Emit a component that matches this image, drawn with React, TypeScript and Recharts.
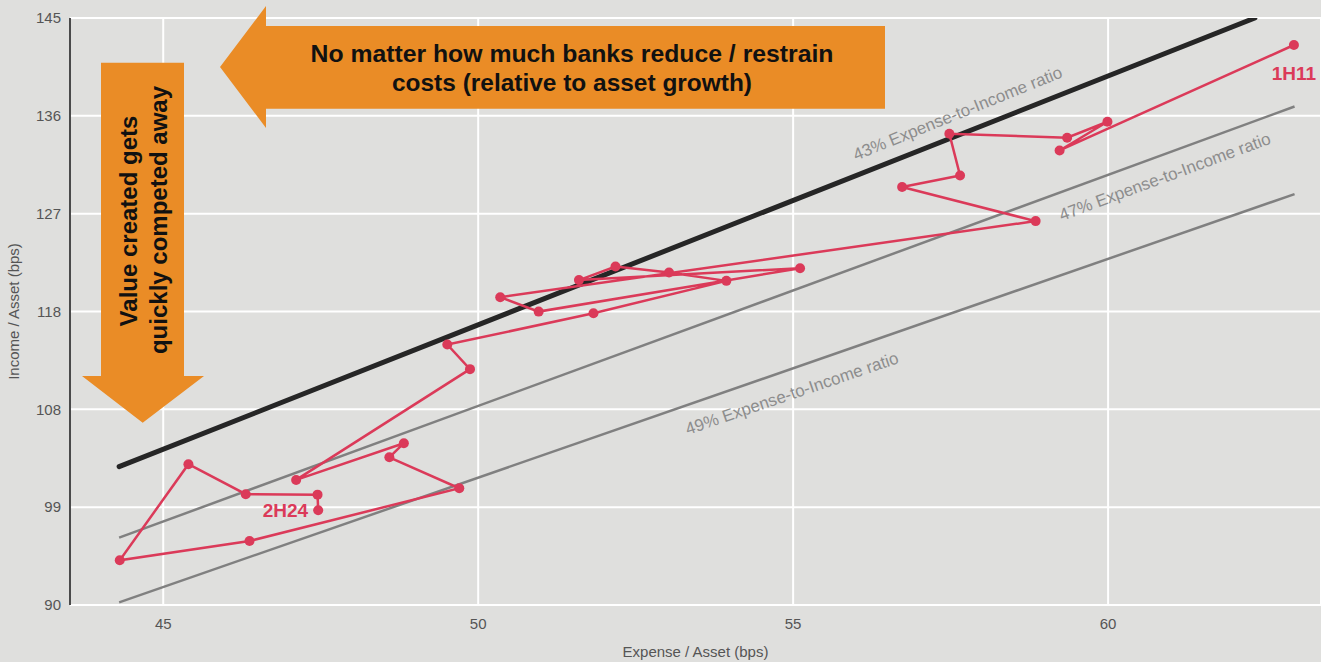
import React from 'react';
import { ComposedChart, Line, XAxis, YAxis, CartesianGrid, ReferenceDot, Label } from 'recharts';

const FONT = '"Liberation Sans", Arial, Helvetica, sans-serif';
const RED = '#db3a59';
const ORANGE = '#ea8c26';
const BG = '#dfdfdd';

// half-year periods, oldest first
const periods = [
  '1H11', '2H11', '1H12', '2H12', '1H13', '2H13', '1H14', '2H14',
  '1H15', '2H15', '1H16', '2H16', '1H17', '2H17', '1H18', '2H18',
  '1H19', '2H19', '1H20', '2H20', '1H21', '2H21', '1H22', '2H22',
  '1H23', '2H23', '1H24', '2H24',
];
// Expense / Asset (bps)
const expense = [
  62.95, 59.23, 59.99, 59.35, 57.48, 57.65, 56.73, 58.85,
  50.35, 50.96, 55.11, 51.60, 52.18, 53.03, 53.94, 51.83,
  49.51, 49.87, 47.11, 48.82, 48.59, 49.70, 46.37, 44.31,
  45.40, 46.31, 47.45, 47.46,
];
// Income / Asset (bps)
const income = [
  142.47, 132.59, 135.28, 133.78, 134.15, 130.24, 129.16, 125.97,
  118.84, 117.49, 121.56, 120.44, 121.71, 121.15, 120.37, 117.33,
  114.40, 112.10, 101.72, 105.16, 103.84, 100.94, 96.00, 94.19,
  103.19, 100.38, 100.34, 98.88,
];

// expense-to-income ratio guide lines (end points)
const ratio43Expense = [44.30, 62.33];
const ratio43Income = [102.96, 145.0];
const ratio47Expense = [44.30, 62.96];
const ratio47Income = [96.31, 136.71];
const ratio49Expense = [44.30, 62.96];
const ratio49Income = [90.25, 128.5];

const xTicks = [45, 50, 55, 60];
const yTicks = [90, 99.1667, 108.3333, 117.5, 126.6667, 135.8333, 145];

const toPoints = (xs: number[], ys: number[]) => xs.map((x, i) => ({ x, y: ys[i] }));

const path = expense.map((x, i) => ({ x, y: income[i], period: periods[i] }));
const line43 = toPoints(ratio43Expense, ratio43Income);
const line47 = toPoints(ratio47Expense, ratio47Income);
const line49 = toPoints(ratio49Expense, ratio49Income);

const ratioText = (text: string, angle: number) => (p: any) => (
  <text
    x={p.cx}
    y={p.cy}
    dy="0.35em"
    transform={`rotate(${angle} ${p.cx} ${p.cy})`}
    textAnchor="middle"
    fill="#8d8d8d"
    fontSize={17}
    fontFamily={FONT}
  >
    {text}
  </text>
);

const periodText = (text: string, dx: number, dy: number, anchor: string) => (p: any) => (
  <text
    x={p.cx + dx}
    y={p.cy + dy}
    textAnchor={anchor}
    fill={RED}
    fontSize={19}
    fontWeight="bold"
    fontFamily={FONT}
  >
    {text}
  </text>
);

const last = periods.length - 1;

export default function App() {
  return (
    <div style={{ position: 'absolute', left: 0, top: 0, width: 1321, height: 662, background: BG, fontFamily: FONT }}>
      <ComposedChart width={1321} height={662} margin={{ top: 18, right: 0, bottom: 0, left: 0 }}>
        <CartesianGrid stroke="#ffffff" strokeWidth={2} />
        <XAxis
          type="number"
          dataKey="x"
          domain={[43.52, 63.38]}
          ticks={xTicks}
          allowDataOverflow
          axisLine={false}
          tickLine={false}
          height={57}
          tickMargin={7}
          tick={{ fill: '#555555', fontSize: 15, fontFamily: FONT }}
        >
          <Label
            content={(p: any) => (
              <text
                x={p.viewBox.x + p.viewBox.width / 2}
                y={657}
                textAnchor="middle"
                fill="#555555"
                fontSize={15}
                fontFamily={FONT}
              >
                Expense / Asset (bps)
              </text>
            )}
          />
        </XAxis>
        <YAxis
          type="number"
          domain={[90, 145]}
          ticks={yTicks}
          allowDataOverflow
          width={70}
          axisLine={{ stroke: '#4a4a4a', strokeWidth: 2 }}
          tickLine={false}
          tickMargin={3}
          tickFormatter={(v: number) => String(Math.round(v))}
          tick={{ fill: '#555555', fontSize: 15, fontFamily: FONT }}
        >
          <Label
            content={(p: any) => {
              const cy = p.viewBox.y + p.viewBox.height / 2;
              return (
                <text
                  x={19}
                  y={cy}
                  transform={`rotate(-90 19 ${cy})`}
                  textAnchor="middle"
                  fill="#555555"
                  fontSize={15}
                  fontFamily={FONT}
                >
                  Income / Asset (bps)
                </text>
              );
            }}
          />
        </YAxis>

        <Line data={line49} dataKey="y" stroke="#808080" strokeWidth={2.5} dot={false} isAnimationActive={false} />
        <Line data={line47} dataKey="y" stroke="#808080" strokeWidth={2.5} dot={false} isAnimationActive={false} />
        <Line data={line43} dataKey="y" stroke="#262626" strokeWidth={5} strokeLinecap="round" dot={false} isAnimationActive={false} />
        <Line
          data={path}
          dataKey="y"
          stroke={RED}
          strokeWidth={2.5}
          dot={{ r: 5, fill: RED, stroke: RED, strokeWidth: 0 }}
          activeDot={false}
          isAnimationActive={false}
        />

        <ReferenceDot x={57.61} y={136.08} r={0} shape={ratioText('43% Expense-to-Income ratio', -22)} />
        <ReferenceDot x={60.90} y={130.15} r={0} shape={ratioText('47% Expense-to-Income ratio', -20.3)} />
        <ReferenceDot x={54.98} y={109.84} r={0} shape={ratioText('49% Expense-to-Income ratio', -18.8)} />
        <ReferenceDot x={expense[0]} y={income[0]} r={0} shape={periodText(periods[0], 0, 35, 'middle')} />
        <ReferenceDot x={expense[last]} y={income[last]} r={0} shape={periodText(periods[last], -10, 7, 'end')} />
      </ComposedChart>

      <svg width={1321} height={662} style={{ position: 'absolute', left: 0, top: 0, pointerEvents: 'none' }}>
        <polygon points="220,67 266,6 266,26 885,26 885,108.7 266,108.7 266,128" fill={ORANGE} />
        <text x={572} y={62} textAnchor="middle" fontSize={24} fontWeight="bold" fontFamily={FONT} fill="#111" textLength={523} lengthAdjust="spacingAndGlyphs">
          No matter how much banks reduce / restrain
        </text>
        <text x={572} y={91} textAnchor="middle" fontSize={24} fontWeight="bold" fontFamily={FONT} fill="#111" textLength={360} lengthAdjust="spacingAndGlyphs">
          costs (relative to asset growth)
        </text>

        <polygon points="101,62.7 184,62.7 184,376 204,376 142.7,422.7 82,376 101,376" fill={ORANGE} />
        <text transform="translate(137,221) rotate(-90)" textAnchor="middle" fontSize={24} fontWeight="bold" fontFamily={FONT} fill="#111">
          Value created gets
        </text>
        <text transform="translate(167,220) rotate(-90)" textAnchor="middle" fontSize={24} fontWeight="bold" fontFamily={FONT} fill="#111">
          quickly competed away
        </text>
      </svg>
    </div>
  );
}
